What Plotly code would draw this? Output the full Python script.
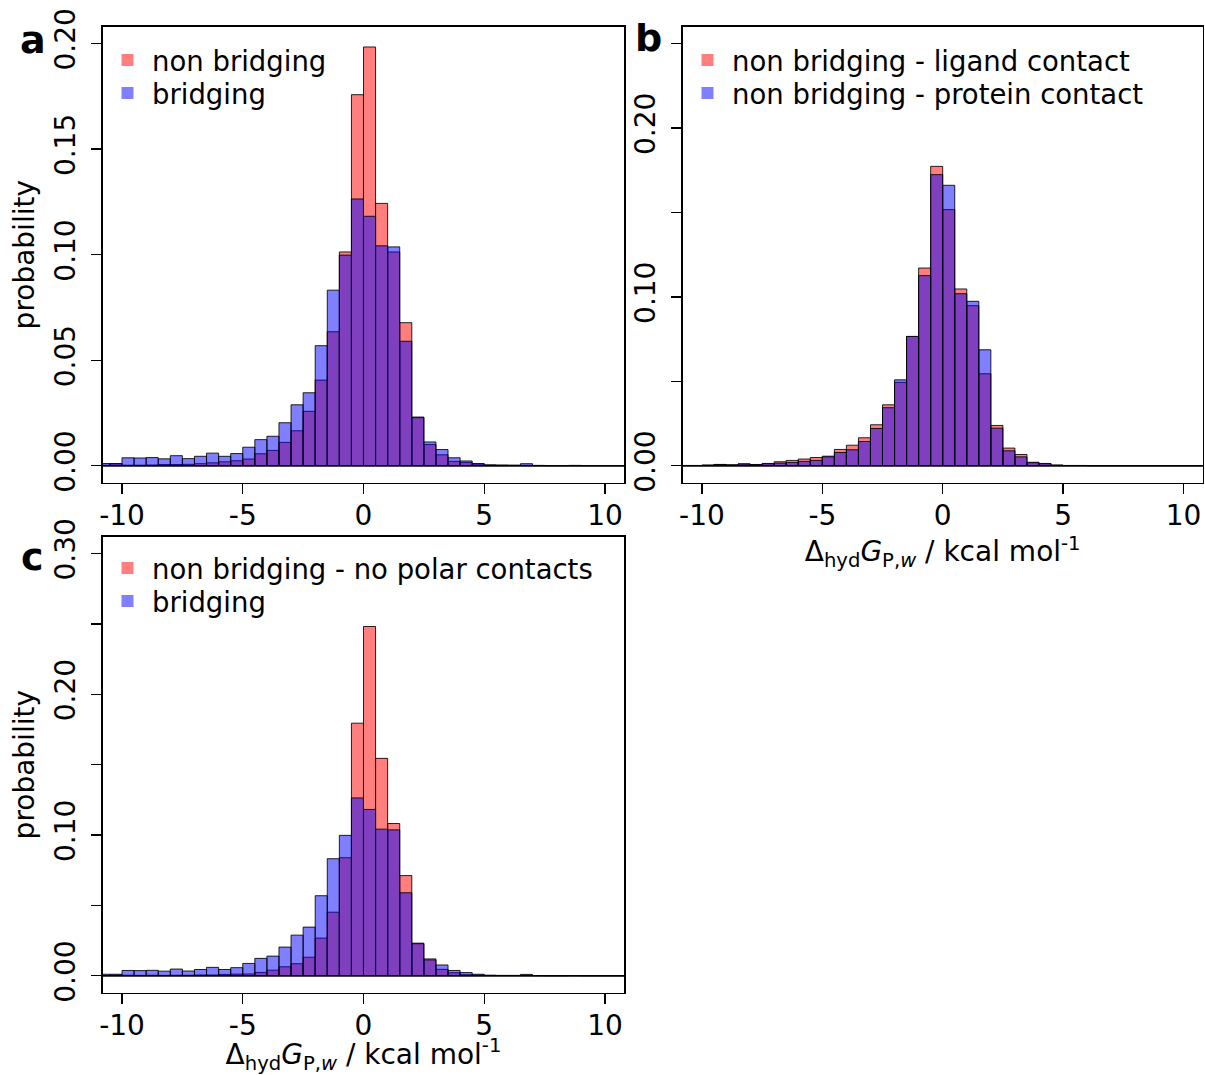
import plotly.graph_objects as go

# ---- data (bin width 0.5 kcal/mol) ----
bin_centers = [-10.75, -10.25, -9.75, -9.25, -8.75, -8.25, -7.75, -7.25, -6.75, -6.25,
               -5.75, -5.25, -4.75, -4.25, -3.75, -3.25, -2.75, -2.25, -1.75, -1.25,
               -0.75, -0.25, 0.25, 0.75, 1.25, 1.75, 2.25, 2.75, 3.25, 3.75,
               4.25, 4.75, 5.25, 5.75, 6.25, 6.75, 7.25, 7.75, 8.25, 8.75,
               9.25, 9.75, 10.25, 10.75]

a_non_bridging = [0.0003, 0.0009, 0.0003, 0.0003, 0.0004, 0.0006, 0.0006, 0.0007, 0.0010, 0.0014,
                  0.0019, 0.0024, 0.0032, 0.0057, 0.0073, 0.0111, 0.0166, 0.0258, 0.0406, 0.0635,
                  0.1013, 0.1758, 0.1984, 0.1243, 0.1013, 0.0678, 0.0231, 0.0101, 0.0052, 0.0021,
                  0.0016, 0.0008, 0.0004, 0.0003, 0.0002, 0.0002, 0.0001, 0.0001, 0.0001, 0.0001,
                  0.0001, 0.0001, 0.0001, 0.0001]

bridging = [0.0011, 0.0011, 0.0038, 0.0037, 0.0039, 0.0033, 0.0048, 0.0034, 0.0045, 0.0060,
            0.0045, 0.0058, 0.0088, 0.0124, 0.0140, 0.0204, 0.0289, 0.0346, 0.0569, 0.0832,
            0.0998, 0.1264, 0.1182, 0.1042, 0.1037, 0.0590, 0.0228, 0.0113, 0.0077, 0.0038,
            0.0023, 0.0011, 0.0004, 0.0003, 0.0003, 0.0010, 0.0002, 0.0001, 0.0001, 0.0002,
            0.0001, 0.0001, 0.0001, 0.0001]

b_ligand_contact = [0.0002, 0.0002, 0.0004, 0.0008, 0.0006, 0.0012, 0.0008, 0.0014, 0.0024, 0.0032,
                    0.0040, 0.0049, 0.0057, 0.0097, 0.0122, 0.0166, 0.0243, 0.0361, 0.0494, 0.0766,
                    0.1171, 0.1773, 0.1517, 0.1047, 0.0948, 0.0545, 0.0239, 0.0105, 0.0067, 0.0021,
                    0.0014, 0.0004, 0.0002, 0.0002, 0.0001, 0.0001, 0.0001, 0.0001, 0.0001, 0.0001,
                    0.0001, 0.0001, 0.0001, 0.0001]

b_protein_contact = [0.0002, 0.0002, 0.0004, 0.0008, 0.0005, 0.0010, 0.0007, 0.0012, 0.0016, 0.0020,
                     0.0026, 0.0032, 0.0053, 0.0079, 0.0095, 0.0144, 0.0221, 0.0344, 0.0509, 0.0766,
                     0.1126, 0.1724, 0.1661, 0.1019, 0.0974, 0.0687, 0.0223, 0.0089, 0.0053, 0.0018,
                     0.0012, 0.0004, 0.0002, 0.0002, 0.0001, 0.0001, 0.0001, 0.0001, 0.0001, 0.0001,
                     0.0001, 0.0001, 0.0001, 0.0001]

c_no_polar = [0.0002, 0.0005, 0.0004, 0.0003, 0.0004, 0.0003, 0.0004, 0.0004, 0.0006, 0.0006,
              0.0010, 0.0012, 0.0013, 0.0024, 0.0040, 0.0064, 0.0086, 0.0132, 0.0268, 0.0452,
              0.0839, 0.1795, 0.2482, 0.1545, 0.1082, 0.0712, 0.0232, 0.0120, 0.0046, 0.0022,
              0.0008, 0.0005, 0.0003, 0.0002, 0.0002, 0.0003, 0.0001, 0.0001, 0.0001, 0.0001,
              0.0001, 0.0001, 0.0001, 0.0001]

x_ticks = [-10, -5, 0, 5, 10]
x_ticktext = ["-10", "-5", "0", "5", "10"]
ya_ticks = [0.0, 0.05, 0.10, 0.15, 0.20]
ya_text = ["0.00", "0.05", "0.10", "0.15", "0.20"]
yb_ticks = [0.0, 0.10, 0.20]
yb_text = ["0.00", "0.10", "0.20"]
yc_ticks = [0.0, 0.10, 0.20, 0.30]
yc_text = ["0.00", "0.10", "0.20", "0.30"]

RED = "rgba(255,0,0,0.5)"
BLUE = "rgba(0,0,255,0.5)"
FONT = "DejaVu Sans"

panels = [
    ("x", "y", "non bridging", a_non_bridging, "bridging", bridging),
    ("x2", "y2", "non bridging - ligand contact", b_ligand_contact,
     "non bridging - protein contact", b_protein_contact),
    ("x3", "y3", "non bridging - no polar contacts", c_no_polar, "bridging", bridging),
]

fig = go.Figure()
for xa, ya, rlab, rdat, blab, bdat in panels:
    for lab, dat, col in [(rlab, rdat, RED), (blab, bdat, BLUE)]:
        fig.add_trace(go.Bar(x=bin_centers, y=dat, width=0.5, xaxis=xa, yaxis=ya, name=lab,
                             marker=dict(color=col, line=dict(color="rgba(0,0,0,0.85)", width=1)),
                             showlegend=False, hoverinfo="skip"))

W, H = 1205, 1075
def px_x(v):
    return v / W
def px_y(v):
    return 1 - v / H

xa_dom = [px_x(102.7), px_x(624.3)]
xb_dom = [px_x(682.7), px_x(1202.7)]
ya_dom = [px_y(482.7), px_y(26.7)]
yc_dom = [px_y(992.7), px_y(536.7)]

axis_common = dict(showline=True, mirror=True, linecolor="black", linewidth=1.3,
                   ticks="outside", ticklen=10, tickwidth=1.3, tickcolor="black",
                   showgrid=False, zeroline=False, automargin=False,
                   tickfont=dict(family=FONT, size=28, color="black"))
minor_y = dict(ticks="outside", ticklen=10, tickwidth=1.3, tickcolor="black",
               tick0=0, dtick=0.05, showgrid=False)

xtitle = "Δ<sub>hyd</sub><i>G</i><sub>P,<i>w</i></sub> / kcal mol<sup>-1</sup>"
ytitle = "probability"
title_font = dict(family=FONT, size=28, color="black")

fig.update_layout(
    width=W, height=H, margin=dict(l=0, r=0, t=0, b=0),
    paper_bgcolor="white", plot_bgcolor="white",
    barmode="overlay", bargap=0, showlegend=False,
    xaxis=dict(domain=xa_dom, range=[-10.8, 10.8], tickvals=x_ticks, ticktext=x_ticktext,
               anchor="y", ticklabelstandoff=-3, **axis_common),
    yaxis=dict(domain=ya_dom, range=[-0.008, 0.208], tickvals=ya_ticks, ticktext=ya_text,
               tickangle=-90, anchor="x", ticklabelstandoff=5,
               title=dict(text=ytitle, font=title_font, standoff=6), **axis_common),
    xaxis2=dict(domain=xb_dom, range=[-10.8, 10.8], tickvals=x_ticks, ticktext=x_ticktext,
                anchor="y2", ticklabelstandoff=-3,
                title=dict(text=xtitle, font=title_font, standoff=0), **axis_common),
    yaxis2=dict(domain=ya_dom, range=[-0.01, 0.26], tickvals=yb_ticks, ticktext=yb_text,
                tickangle=-90, anchor="x2", ticklabelstandoff=5, minor=minor_y, **axis_common),
    xaxis3=dict(domain=xa_dom, range=[-10.8, 10.8], tickvals=x_ticks, ticktext=x_ticktext,
                anchor="y3", ticklabelstandoff=-3,
                title=dict(text=xtitle, font=title_font, standoff=0), **axis_common),
    yaxis3=dict(domain=yc_dom, range=[-0.012, 0.312], tickvals=yc_ticks, ticktext=yc_text,
                tickangle=-90, anchor="x3", ticklabelstandoff=5, minor=minor_y,
                title=dict(text=ytitle, font=title_font, standoff=6), **axis_common),
)

# horizontal zero line in each panel
for xa, ya in [("x", "y"), ("x2", "y2"), ("x3", "y3")]:
    fig.add_shape(type="line", xref=f"{xa} domain", yref=ya, x0=0, x1=1, y0=0, y1=0,
                  line=dict(color="black", width=1.2), layer="above")

# legends (filled squares + labels), drawn like R's legend(pch=15)
legend_rows = [
    # (square x, text x, row y, label, colour)
    (127.5, 150, 60, panels[0][2], RED), (127.5, 150, 93, panels[0][4], BLUE),
    (707.5, 730, 60, panels[1][2], RED), (707.5, 730, 93, panels[1][4], BLUE),
    (127.5, 150, 568, panels[2][2], RED), (127.5, 150, 601, panels[2][4], BLUE),
]
SQ = 6
for sx, tx, ry, lab, col in legend_rows:
    fig.add_shape(type="rect", xref="paper", yref="paper",
                  x0=px_x(sx - SQ), x1=px_x(sx + SQ), y0=px_y(ry + SQ), y1=px_y(ry - SQ),
                  fillcolor=col, line=dict(width=0))
    fig.add_annotation(text=lab, x=px_x(tx), y=px_y(ry + 1), xref="paper", yref="paper",
                       showarrow=False, xanchor="left", yanchor="middle",
                       font=dict(family=FONT, size=27.5, color="black"))

# panel letters
for letter, xx, yy in [("a", 33, 40), ("b", 648, 38), ("c", 32, 557)]:
    fig.add_annotation(text=f"<b>{letter}</b>", x=px_x(xx), y=px_y(yy), xref="paper", yref="paper",
                       showarrow=False, xanchor="center", yanchor="middle",
                       font=dict(family=FONT, size=38, color="black"))

fig.write_html("out.html",
               config={"displayModeBar": False, "staticPlot": True},
               post_script="document.body.style.margin='0px';"
                           "document.documentElement.style.overflow='hidden';"
                           "document.body.style.overflow='hidden';")
